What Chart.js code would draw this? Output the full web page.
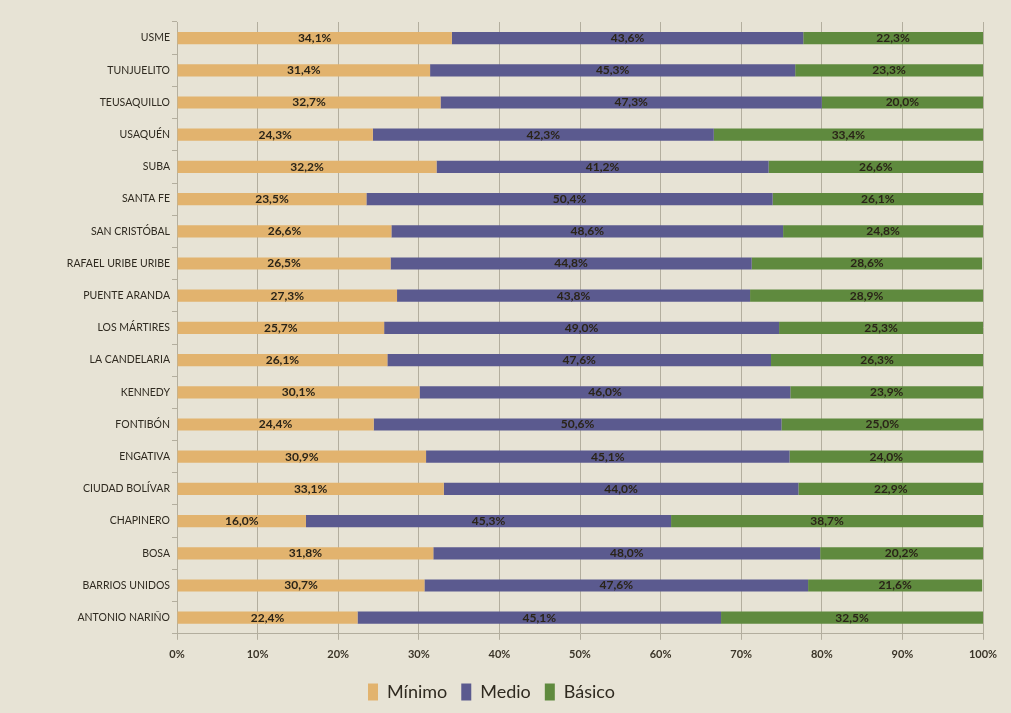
<!DOCTYPE html>
<html>
<head>
<meta charset="utf-8">
<script src="https://cdn.jsdelivr.net/npm/chart.js@4"></script>
<style>
  html, body { margin: 0; padding: 0; background: #e7e3d5; }
  #wrap { width: 1011px; height: 713px; }
</style>
</head>
<body>
<div id="wrap"><canvas id="barChart" width="1011" height="713"></canvas></div>
<script>
// Localidades (de arriba hacia abajo)
const localidades = ['USME', 'TUNJUELITO', 'TEUSAQUILLO', 'USAQUÉN', 'SUBA', 'SANTA FE', 'SAN CRISTÓBAL',
    'RAFAEL URIBE URIBE', 'PUENTE ARANDA', 'LOS MÁRTIRES', 'LA CANDELARIA', 'KENNEDY', 'FONTIBÓN',
    'ENGATIVA', 'CIUDAD BOLÍVAR', 'CHAPINERO', 'BOSA', 'BARRIOS UNIDOS', 'ANTONIO NARIÑO'];
const minimo = [34.1, 31.4, 32.7, 24.3, 32.2, 23.5, 26.6, 26.5, 27.3, 25.7, 26.1, 30.1, 24.4, 30.9, 33.1, 16.0, 31.8, 30.7, 22.4];
const medio  = [43.6, 45.3, 47.3, 42.3, 41.2, 50.4, 48.6, 44.8, 43.8, 49.0, 47.6, 46.0, 50.6, 45.1, 44.0, 45.3, 48.0, 47.6, 45.1];
const basico = [22.3, 23.3, 20.0, 33.4, 26.6, 26.1, 24.8, 28.6, 28.9, 25.3, 26.3, 23.9, 25.0, 24.0, 22.9, 38.7, 20.2, 21.6, 32.5];
const xTicks = [0, 10, 20, 30, 40, 50, 60, 70, 80, 90, 100];

const fmt = v => v.toFixed(1).replace('.', ',') + '%';

// etiquetas dentro de cada segmento
const barLabels = {
    id: 'barLabels',
    afterDatasetsDraw(chart) {
        const ctx = chart.ctx;
        ctx.save();
        ctx.font = 'bold 12px Lato, "Open Sans", sans-serif';
        ctx.fillStyle = '#2a2418';
        ctx.textAlign = 'center';
        ctx.textBaseline = 'middle';
        chart.data.datasets.forEach((ds, i) => {
            chart.getDatasetMeta(i).data.forEach((bar, j) => {
                const cx = (bar.x + bar.base) / 2;
                ctx.fillText(fmt(ds.data[j]), cx, bar.y);
            });
        });
        ctx.restore();
    }
};

new Chart(document.getElementById('barChart'), {
    type: 'bar',
    data: {
        labels: localidades,
        datasets: [
            { label: 'Mínimo', data: minimo, backgroundColor: '#e2b36e' },
            { label: 'Medio', data: medio, backgroundColor: '#5b5a8f' },
            { label: 'Básico', data: basico, backgroundColor: '#5f8a3e' }
        ]
    },
    options: {
        indexAxis: 'y',
        responsive: false,
        animation: false,
        layout: { padding: { top: 22, right: 28, left: 0, bottom: 2 } },
        datasets: { bar: { barPercentage: 0.5, categoryPercentage: 0.76 } },
        scales: {
            x: {
                stacked: true, min: 0, max: 100,
                afterBuildTicks: s => { s.ticks = xTicks.map(v => ({ value: v })); },
                ticks: { callback: v => v + '%', color: '#3a3428', font: { family: 'Lato, "Open Sans", sans-serif', size: 11, weight: 'bold' }, padding: 8 },
                grid: { color: '#b3ae9e', tickLength: 6 },
                border: { color: '#b3ae9e' }
            },
            y: {
                stacked: true,
                afterFit: s => { s.width = 177; },
                ticks: { color: '#2f2a20', font: { family: 'Lato, "Open Sans", sans-serif', size: 10.5 }, padding: 2 },
                grid: { drawOnChartArea: false, color: '#b3ae9e', tickLength: 5 },
                border: { color: '#b3ae9e' }
            }
        },
        plugins: {
            legend: {
                position: 'bottom',
                labels: { boxWidth: 10, boxHeight: 17, padding: 14, color: '#2f2a20', font: { family: 'Lato, "Open Sans", sans-serif', size: 18 } }
            },
            tooltip: { enabled: false }
        }
    },
    plugins: [barLabels]
});
</script>
</body>
</html>
